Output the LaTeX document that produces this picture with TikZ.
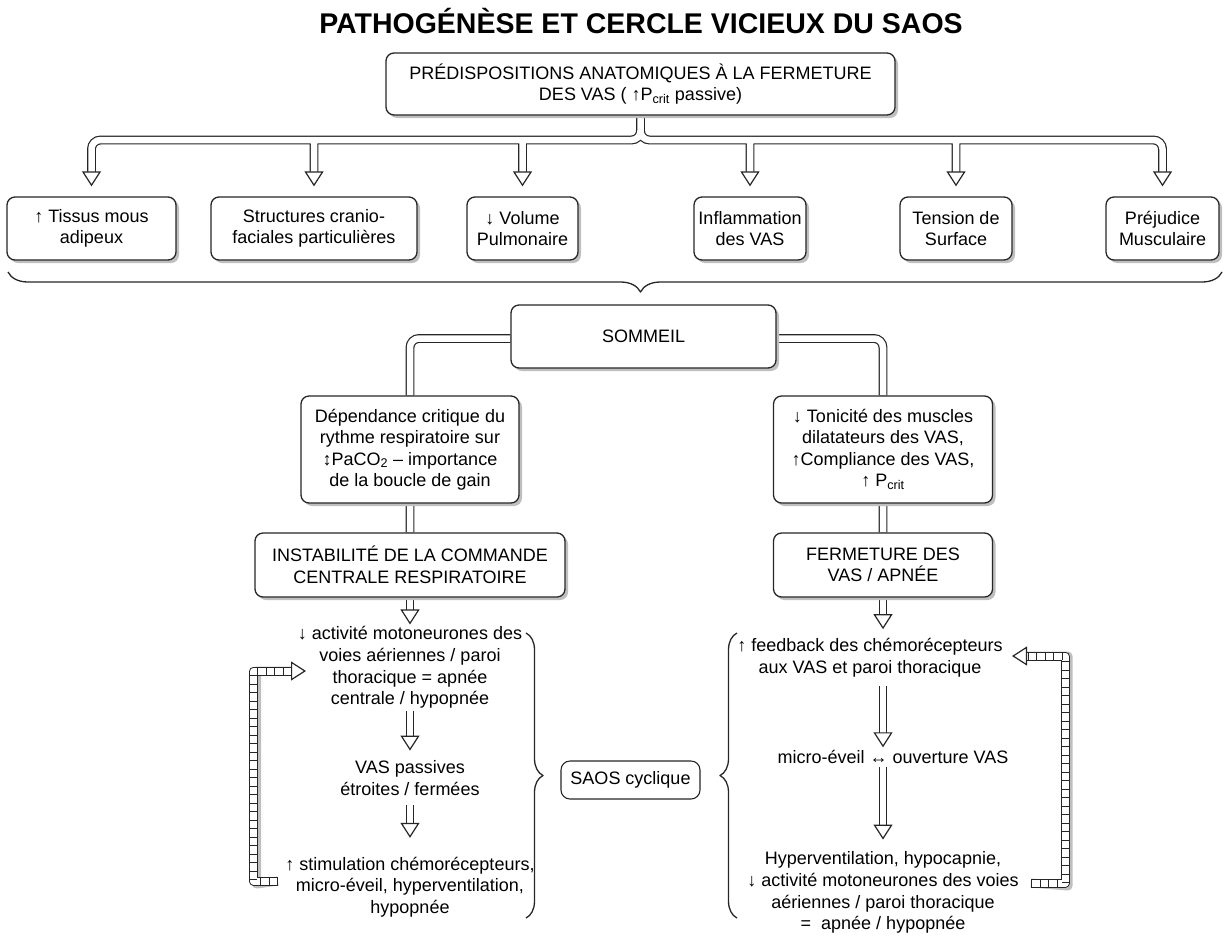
\documentclass[tikz,border=0pt]{standalone}
\usepackage{fontspec}
\setmainfont{Liberation Sans}
\usetikzlibrary{arrows.meta,shadows,backgrounds,decorations.pathreplacing}

\begin{document}
\begin{tikzpicture}[x=1pt, y=-1pt, line join=round,
  box/.style={draw=black!85, line width=1.3pt, rounded corners=8pt, fill=white, align=center, inner sep=0pt, minimum height=63pt, font=\fontsize{18}{21.5}\selectfont, drop shadow={shadow xshift=3pt, shadow yshift=-3pt, fill=black!25, opacity=1}},
  tag/.style={draw=black!85, line width=1.1pt, rounded corners=9pt, fill=white, inner sep=0pt, minimum width=139pt, minimum height=38pt, font=\fontsize{18}{21.5}\selectfont},
  txt/.style={align=center, inner sep=0pt, font=\fontsize{18}{21.7}\selectfont},
  pipe/.style={draw=black!85, line width=1.2pt, double=white, double distance=6.5pt, rounded corners=9pt},
  head/.style={draw=white, line width=1pt, -{Triangle[length=15pt, width=19pt, line width=1.2pt, color=black!85, fill=white]}},
  ladder/.style={draw=black!85, line width=1pt, double=white, double distance=7pt},
  rungs/.style={draw=black!85, line width=7pt, dash pattern=on 1pt off 7.5pt},
  ladder shadow/.style={draw=black!25, line width=9pt, xshift=3pt, yshift=-3pt},
  curly/.style={draw=black!85, line width=1.3pt, decorate, decoration={brace, amplitude=#1}}]
\useasboundingbox (0,0) rectangle (1225,935);

\node[font=\bfseries\fontsize{28.5}{30}\selectfont, inner sep=0pt, anchor=base] (title) at (641,33) {PATHOGÉNÈSE ET CERCLE VICIEUX DU SAOS};
\node[box, minimum width=509pt, minimum height=62pt] (pred) at (640.5,84) {PRÉDISPOSITIONS ANATOMIQUES À LA FERMETURE\\DES VAS ( ↑P\textsubscript{crit} passive)};

% facteurs anatomiques
\node[box, minimum width=169pt] (b1) at (91.5,228.5) {↑ Tissus mous\\adipeux};
\node[box, minimum width=206pt] (b2) at (314,228.5) {Structures cranio-\\faciales particulières};
\node[box, minimum width=111pt] (b3) at (522.5,228.5) {↓ Volume\\Pulmonaire};
\node[box, minimum width=112pt] (b4) at (750,228.5) {Inflammation\\des VAS};
\node[box, minimum width=112pt] (b5) at (956,228.5) {Tension de\\Surface};
\node[box, minimum width=113pt] (b6) at (1162.5,228.5) {Préjudice\\Musculaire};
\draw[curly=20pt, decoration={aspect=0.479}] (1222,272) -- (8,272);

\node[box, minimum width=265pt] (som) at (643.5,336.5) {SOMMEIL};
\node[box, minimum width=218pt, minimum height=107pt] (dep) at (410,449.5) {Dépendance critique du\\rythme respiratoire sur\\↕PaCO\textsubscript{2} – importance\\de la boucle de gain};
\node[box, minimum width=219pt, minimum height=107pt] (ton) at (883,449.5) {↓ Tonicité des muscles\\dilatateurs des VAS,\\↑Compliance des VAS,\\↑ P\textsubscript{crit}};
\node[box, minimum width=310pt, minimum height=64pt] (inst) at (410,565) {INSTABILITÉ DE LA COMMANDE\\CENTRALE RESPIRATOIRE};
\node[box, minimum width=219pt, minimum height=64pt] (ferm) at (883,565) {FERMETURE DES\\VAS / APNÉE};

% cycle central
\node[txt, outer ysep=2pt] (l1) at (410,667.5) {↓ activité motoneurones des\\voies aériennes / paroi\\thoracique = apnée\\centrale / hypopnée};
\node[txt, outer ysep=10pt] (l2) at (410,778) {VAS passives\\étroites / fermées};
\node[txt, outer ysep=19pt] (l3) at (410,887) {↑ stimulation chémorécepteurs,\\micro-éveil, hyperventilation,\\hypopnée};

% cycle obstructif
\node[txt, outer ysep=9pt] (r1) at (870,657.5) {↑ feedback des chémorécepteurs\\aux VAS et paroi thoracique};
\node[txt, outer ysep=3pt] (r2) at (893,757) {micro-éveil ↔ ouverture VAS};
\node[txt, outer ysep=12pt] (r3) at (883,892.5) {Hyperventilation, hypocapnie,\\↓ activité motoneurones des voies\\aériennes / paroi thoracique\\=\ \ apnée / hypopnée};

\node[tag] (saos) at (630.5,780) {SAOS cyclique};
\draw[curly=17pt] (526,633) -- (526,918);
\draw[curly=17pt] (737,918) -- (737,633);

\coordinate (fork) at (640.5,140);
\coordinate (t1) at ([yshift=10pt]b1.north);
\coordinate (t2) at ([yshift=10pt]b2.north);
\coordinate (t3) at ([yshift=10pt]b3.north);
\coordinate (t4) at ([yshift=10pt]b4.north);
\coordinate (t5) at ([yshift=10pt]b5.north);
\coordinate (t6) at ([yshift=10pt]b6.north);

\begin{scope}[on background layer]
\draw[pipe] (pred.south) -- (fork) -| ([yshift=14pt]t1)
  (pred.south) -- (fork) -| ([yshift=14pt]t6)
  (fork -| t2) -- ([yshift=14pt]t2)
  (fork -| t3) -- ([yshift=14pt]t3)
  (fork -| t4) -- ([yshift=14pt]t4)
  (fork -| t5) -- ([yshift=14pt]t5);
\draw[pipe] ([yshift=-2pt]som.west) -| (dep.north) (dep.south) -- (inst.north)
  ([yshift=-2pt]som.east) -| (ton.north) (ton.south) -- (ferm.north);
\draw[pipe] (inst.south) -- ([yshift=14pt]l1.north)
  (l1.south) -- ([yshift=14pt]l2.north)
  (l2.south) -- ([yshift=14pt]l3.north);
\draw[pipe] (ferm.south) -- ([yshift=14pt]r1.north -| ferm.south)
  (r1.south -| ferm.south) -- ([yshift=14pt]r2.north -| ferm.south)
  (r2.south -| ferm.south) -- ([yshift=14pt]r3.north);
\end{scope}

\draw[head] ([yshift=15pt]t1) -- (t1);
\draw[head] ([yshift=15pt]t2) -- (t2);
\draw[head] ([yshift=15pt]t3) -- (t3);
\draw[head] ([yshift=15pt]t4) -- (t4);
\draw[head] ([yshift=15pt]t5) -- (t5);
\draw[head] ([yshift=15pt]t6) -- (t6);
\draw[head] ([yshift=15pt]l1.north) -- (l1.north);
\draw[head] ([yshift=15pt]l2.north) -- (l2.north);
\draw[head] ([yshift=15pt]l3.north) -- (l3.north);
\draw[head] ([yshift=15pt]r1.north -| ferm.south) -- (r1.north -| ferm.south);
\draw[head] ([yshift=15pt]r2.north -| ferm.south) -- (r2.north -| ferm.south);
\draw[head] ([yshift=15pt]r3.north) -- (r3.north);

% boucles de retour
\coordinate (fl1) at (278,881);
\coordinate (fl2) at (306,671);
\coordinate (fr1) at (1031,883);
\coordinate (fr2) at (1012,656);
\draw[ladder shadow] (fl1) -- (253.5,881) |- ([xshift=-13pt]fl2);
\draw[ladder] (fl1) -- (253.5,881) |- ([xshift=-13pt]fl2);
\draw[rungs] (fl1) -- (253.5,881) |- ([xshift=-13pt]fl2);
\draw[head] ([xshift=-14pt]fl2) -- (fl2);
\draw[ladder shadow] (fr1) -- (1065,883) |- ([xshift=13pt]fr2);
\draw[ladder] (fr1) -- (1065,883) |- ([xshift=13pt]fr2);
\draw[rungs] (fr1) -- (1065,883) |- ([xshift=13pt]fr2);
\draw[head] ([xshift=14pt]fr2) -- (fr2);
\end{tikzpicture}
\end{document}
